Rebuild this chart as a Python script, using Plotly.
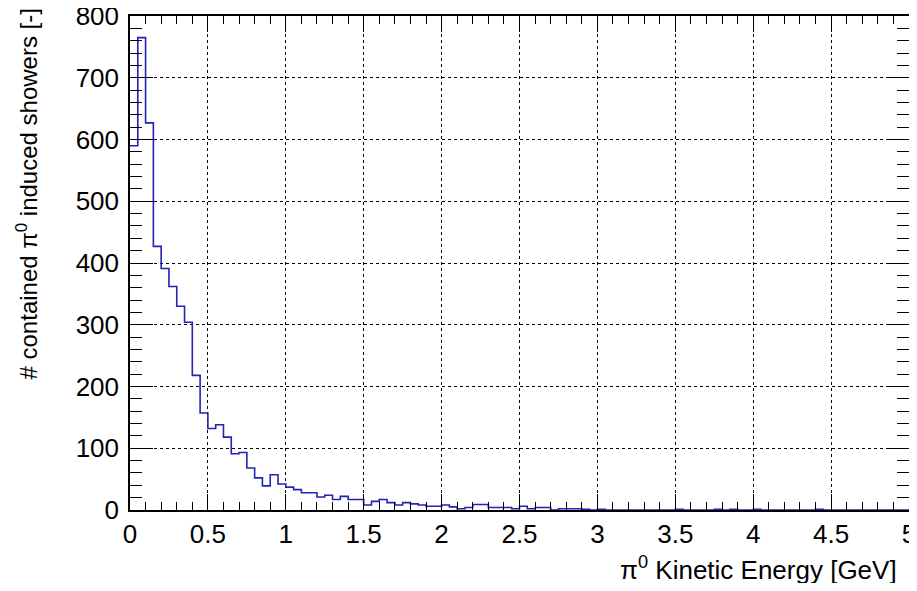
import plotly.graph_objects as go

bin_width = 0.05
n_bins = 100
counts = [590, 765, 627, 427, 391, 362, 330, 304, 218, 157,
          132, 138, 118, 91, 93, 68, 52, 39, 57, 42,
          37, 33, 28, 28, 21, 24, 17, 22, 17, 17,
          8, 14, 17, 12, 8, 12, 10, 8, 6, 6,
          8, 5, 2, 4, 9, 9, 4, 4, 4, 2,
          6, 2, 4, 4, 0, 2, 2, 2, 1, 0,
          1, 0, 0, 0, 0, 0, 0, 0, 0, 0,
          1, 0, 0, 0, 0, 1, 0, 1, 0, 0,
          1, 0, 0, 0, 0, 0, 0, 0, 1, 0,
          0, 0, 0, 0, 0, 0, 0, 0, 0, 0]
x_ticks = [0, 0.5, 1, 1.5, 2, 2.5, 3, 3.5, 4, 4.5, 5]
x_tick_labels = ["0", "0.5", "1", "1.5", "2", "2.5", "3", "3.5", "4", "4.5", "5"]
y_ticks = [0, 100, 200, 300, 400, 500, 600, 700, 800]
y_tick_labels = ["0", "100", "200", "300", "400", "500", "600", "700", "800"]
x_title = "π<sup>0</sup> Kinetic Energy [GeV]"
y_title = "# contained π<sup>0</sup> induced showers [-]"

edges = [round(i * bin_width, 4) for i in range(n_bins + 1)]
step_y = counts + [counts[-1]]

FONT = "Liberation Sans, Arial, Helvetica, sans-serif"

fig = go.Figure()
fig.add_trace(go.Scatter(
    x=edges, y=step_y, mode="lines", line_shape="hv",
    line=dict(color="#2323b4", width=1.6), hoverinfo="skip", showlegend=False))

axis_common = dict(
    showline=True, linecolor="black", linewidth=1.5, mirror="ticks",
    ticks="inside", tickcolor="black", tickwidth=1.3,
    showgrid=True, gridcolor="black", gridwidth=1, griddash="dot",
    zeroline=False, automargin=False, ticklabeloverflow="allow",
    tickfont=dict(family=FONT, size=26, color="black"),
)

fig.update_xaxes(range=[0, 5], tickvals=x_ticks, ticktext=x_tick_labels,
                 ticklen=16, ticklabelstandoff=0,
                 minor=dict(dtick=0.1, ticklen=8, ticks="inside", tickcolor="black",
                            tickwidth=1.2, showgrid=False),
                 **axis_common)
fig.update_yaxes(range=[0, 800], tickvals=y_ticks, ticktext=y_tick_labels,
                 ticklen=23, ticklabelstandoff=4,
                 minor=dict(dtick=20, ticklen=12, ticks="inside", tickcolor="black",
                            tickwidth=1.2, showgrid=False),
                 **axis_common)

fig.add_annotation(text=x_title, xref="paper", yref="paper", x=1, y=0,
                   xanchor="right", yanchor="middle", xshift=-10, yshift=-58,
                   showarrow=False, font=dict(family=FONT, size=26, color="black"))
fig.add_annotation(text=y_title, xref="paper", yref="paper", x=0, y=1,
                   xanchor="center", yanchor="top", xshift=-104, yshift=9,
                   textangle=-90, showarrow=False,
                   font=dict(family=FONT, size=24, color="black"))

# The page body has an 8px margin; size and margins compensate for it.
fig.update_layout(
    width=909, height=575,
    margin=dict(l=122, r=8, t=8, b=73, autoexpand=False),
    paper_bgcolor="white", plot_bgcolor="white",
    font=dict(family=FONT, color="black"),
)

fig.write_html("out.html")
